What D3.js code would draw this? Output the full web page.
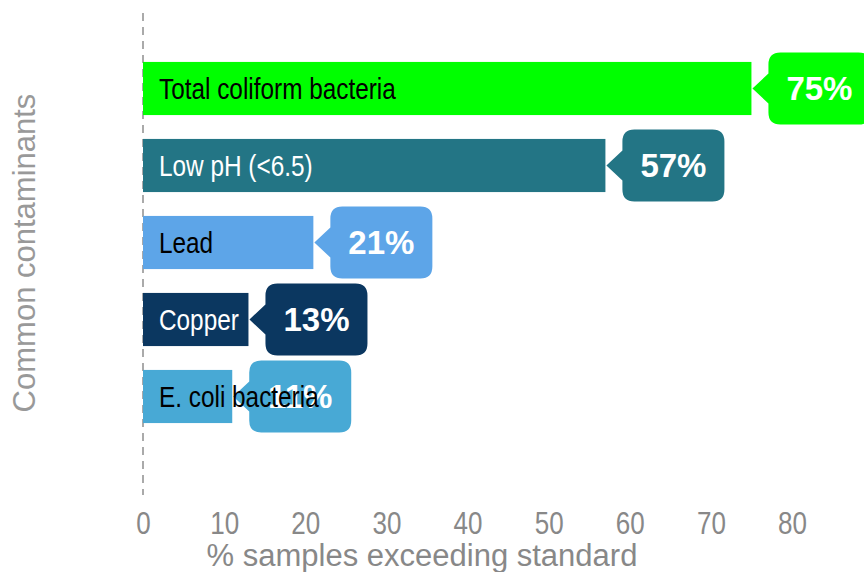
<!DOCTYPE html>
<html>
<head>
<meta charset="utf-8">
<script src="https://cdn.jsdelivr.net/npm/d3@7"></script>
<style>
  body { margin: 0; background: #fff; }
  text { font-family: "Liberation Sans", Arial, sans-serif; }
</style>
</head>
<body>
<script>
var width = 864,
    height = 572;

// data
var categories = ["Total coliform bacteria", "Low pH (<6.5)", "Lead", "Copper", "E. coli bacteria"];
var values = [75, 57, 21, 13, 11];
var barColors = ["#00ff00", "#237585", "#5da5e8", "#0b3760", "#48a9d5"];
var labelColors = ["#000", "#fff", "#000", "#fff", "#000"];
var xTicks = [0, 10, 20, 30, 40, 50, 60, 70, 80];

var rows = categories.map(function (c, i) {
    return { name: c, value: values[i], color: barColors[i], text: labelColors[i] };
});

// no narrow font installed, squeeze regular text instead
var narrow = 0.84;

var svg = d3.select("body").append("svg")
    .attr("width", width)
    .attr("height", height);

var x = d3.scaleLinear()
    .domain([0, 80])
    .range([143, 792]);

var y = d3.scaleBand()
    .domain(categories)
    .range([50, 435])
    .paddingInner(0.31)
    .paddingOuter(0.155);

// dashed zero line
svg.append("line")
    .attr("x1", x(0)).attr("x2", x(0))
    .attr("y1", 13).attr("y2", 495)
    .attr("stroke", "#aaa")
    .attr("stroke-width", 2)
    .attr("stroke-dasharray", "8,6");

// bars
svg.append("g")
    .selectAll("rect")
    .data(rows)
    .enter()
    .append("rect")
    .attr("x", x(0))
    .attr("y", function (d) { return y(d.name); })
    .attr("width", function (d) { return x(d.value) - x(0); })
    .attr("height", y.bandwidth())
    .attr("fill", function (d) { return d.color; });

// callout bubbles
var bw = 102, bh = 72, r = 12, pw = 16, ph = 15;
function callout(d) {
    var tip = x(d.value) + 1,
        cy = y(d.name) + y.bandwidth() / 2,
        l = tip + pw, t = cy - bh / 2, rt = l + bw, b = cy + bh / 2;
    return "M" + tip + "," + cy +
        "L" + l + "," + (cy - ph) +
        "L" + l + "," + (t + r) +
        "Q" + l + "," + t + " " + (l + r) + "," + t +
        "L" + (rt - r) + "," + t +
        "Q" + rt + "," + t + " " + rt + "," + (t + r) +
        "L" + rt + "," + (b - r) +
        "Q" + rt + "," + b + " " + (rt - r) + "," + b +
        "L" + (l + r) + "," + b +
        "Q" + l + "," + b + " " + l + "," + (b - r) +
        "L" + l + "," + (cy + ph) + "Z";
}

var bubbles = svg.append("g")
    .selectAll("g")
    .data(rows)
    .enter()
    .append("g");

bubbles.append("path")
    .attr("d", callout)
    .attr("fill", function (d) { return d.color; });

bubbles.append("text")
    .attr("x", function (d) { return x(d.value) + 1 + pw + bw / 2; })
    .attr("y", function (d) { return y(d.name) + y.bandwidth() / 2; })
    .attr("dy", "0.36em")
    .attr("text-anchor", "middle")
    .attr("fill", "#fff")
    .style("font-weight", "bold")
    .style("font-size", "33px")
    .text(function (d) { return d.value + "%"; });

// category labels inside bars (drawn last, they sit on top)
svg.append("g")
    .selectAll("text")
    .data(rows)
    .enter()
    .append("text")
    .attr("transform", function (d) {
        return "translate(159," + (y(d.name) + y.bandwidth() / 2) + ") scale(" + narrow + ",1)";
    })
    .attr("dy", "0.36em")
    .attr("fill", function (d) { return d.text; })
    .style("font-size", "29px")
    .text(function (d) { return d.name; });

// x axis
var xAxis = svg.append("g")
    .attr("transform", "translate(0,512)")
    .call(d3.axisBottom(x).tickValues(xTicks).tickSize(0).tickPadding(0));
xAxis.select(".domain").remove();
xAxis.selectAll("text")
    .attr("y", null)
    .attr("dy", "0.71em")
    .attr("transform", "scale(" + narrow + ",1)")
    .attr("fill", "#888")
    .style("font-family", "'Liberation Sans', Arial, sans-serif")
    .style("font-size", "31px");

svg.append("text")
    .attr("x", 422)
    .attr("y", 566)
    .attr("text-anchor", "middle")
    .attr("fill", "#888")
    .style("font-size", "31px")
    .text("% samples exceeding standard");

svg.append("text")
    .attr("transform", "translate(35,253) rotate(-90)")
    .attr("text-anchor", "middle")
    .attr("fill", "#999")
    .style("font-size", "31px")
    .text("Common contaminants");
</script>
</body>
</html>
